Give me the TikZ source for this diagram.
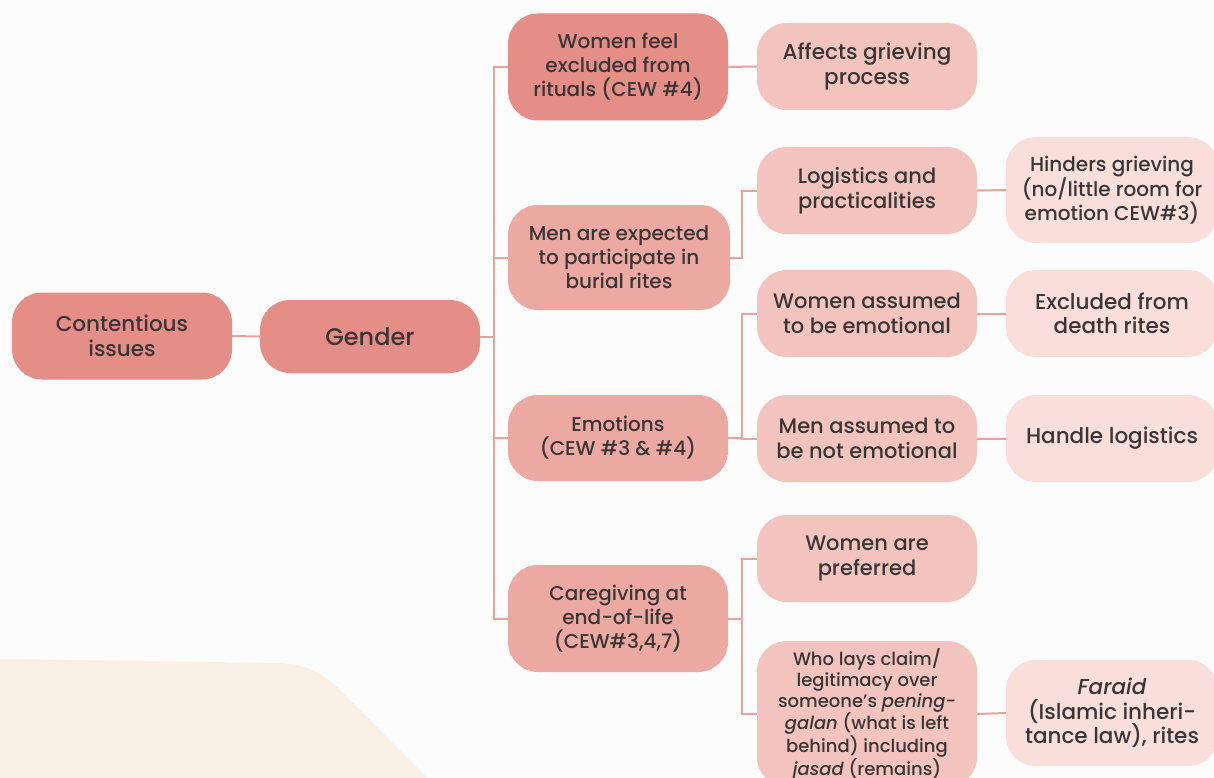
\documentclass[tikz,border=0pt]{standalone}
\usepackage{fontspec}
\IfFontExistsTF{Poppins Medium}
  {\setmainfont{Poppins Medium}[ItalicFont={Poppins Medium Italic}]}
  {\setmainfont{Poppins}[FakeBold=0.6]}
\definecolor{bg}{HTML}{FCFCFC}
\definecolor{sand}{HTML}{F8F0E5}
\definecolor{ink}{HTML}{3A3636}
\definecolor{linkc}{HTML}{E9A39D}
\definecolor{toneA}{HTML}{E58D87}
\definecolor{toneB}{HTML}{ECA9A2}
\definecolor{toneC}{HTML}{F3C4BE}
\definecolor{toneD}{HTML}{F9DEDA}
\newcommand{\fsize}[2]{\fontsize{#1}{#2}\selectfont}
\tikzset{
  pill/.style={rectangle, rounded corners=30pt, inner sep=0pt, align=center,
    text=ink, minimum width=220pt, font=\fsize{20}{24}},
  tA/.style={pill, fill=toneA},
  tB/.style={pill, fill=toneB},
  tC/.style={pill, fill=toneC},
  tD/.style={pill, fill=toneD, minimum width=212pt},
  big/.style={font=\fsize{21}{24.5}},
  bigger/.style={font=\fsize{21.5}{24.5}},
  link/.style={draw=linkc, line width=2pt},
}
\begin{document}
\begin{tikzpicture}[x=1pt, y=-1pt]
\useasboundingbox (0,0) rectangle (1214,778);
\clip (0,0) rectangle (1214,778);
\fill[bg] (0,0) rectangle (1214,778);
% sand-coloured backdrop shape in the lower left
\fill[sand] (0,659) -- (280,663) .. controls (308,664) and (326,676) .. (340,690)
  -- (427,778) -- (0,778) -- cycle;

% junction columns
\coordinate (jA) at (494,0);
\coordinate (jB) at (742,0);

% root and main topic
\node[tA, minimum height=87pt, bigger] (ci) at (122,336) {Contentious\\issues};
\node[tA, minimum height=73pt, font=\fsize{24}{28}] (gen) at (370,336.5) {Gender};

% second level
\node[tA, minimum height=107pt] (wfe) at (618,67) {Women feel\\excluded from\\rituals (CEW \#4)};
\node[tB, minimum height=105pt, minimum width=222pt] (mae) at (619,257.5) {Men are expected\\to participate in\\burial rites};
\node[tB, minimum height=86pt] (emo) at (618,438) {Emotions\\(CEW \#3 \& \#4)};
\node[tB, minimum height=107pt] (care) at (618,618.5) {Caregiving at\\end-of-life\\(CEW\#3,4,7)};

% third level
\node[tC, minimum height=87pt, bigger] (aff) at (867,66.5) {Affects grieving\\process};
\node[tC, minimum height=87pt, big] (log) at (867,190.5) {Logistics and\\practicalities};
\node[tC, minimum height=87pt, big] (wae) at (867,313.5) {Women assumed\\to be emotional};
\node[tC, minimum height=87pt, big] (man) at (867,438.5) {Men assumed to\\be not emotional};
\node[tC, minimum height=87pt, big] (wap) at (867,558.5) {Women are\\preferred};
\node[tC, minimum height=146pt, font=\fsize{18}{21}] (who) at (867,714)
  {Who lays claim/\\legitimacy over\\someone's \textit{pening-}\\\textit{galan} (what is left\\behind) including\\\textit{jasad} (remains)};

% fourth level
\node[tD, minimum height=106pt] (hin) at (1112,190) {Hinders grieving\\(no/little room for\\emotion CEW\#3)};
\node[tD, minimum height=87pt, bigger] (exc) at (1112,313.5) {Excluded from\\death rites};
\node[tD, minimum height=87pt, bigger] (han) at (1112,438.5) {Handle logistics};
\node[tD, minimum height=106pt, bigger] (far) at (1112,713) {\textit{Faraid}\\(Islamic inheri-\\tance law), rites};

% connectors
\draw[link] (ci.east) -- (gen.west);
\draw[link] (gen.east) -- (gen.east -| jA);
\draw[link] (wfe.west) -- (wfe.west -| jA) |- (care.west);
\draw[link] (mae.west) -- (mae.west -| jA);
\draw[link] (emo.west) -- (emo.west -| jA);

\draw[link] (wfe.east) -- (aff.west);
\draw[link] (log.west) -- (log.west -| jB) |- (mae.east);
\draw[link] (wae.west) -- (wae.west -| jB) |- (man.west);
\draw[link] (emo.east) -- (emo.east -| jB);
\draw[link] (wap.west) -- (wap.west -| jB) |- (who.west);
\draw[link] (care.east) -- (care.east -| jB);

\draw[link] (log.east) -- (hin.west);
\draw[link] (wae.east) -- (exc.west);
\draw[link] (man.east) -- (han.west);
\draw[link] (who.east) -- (far.west);
\end{tikzpicture}
\end{document}
